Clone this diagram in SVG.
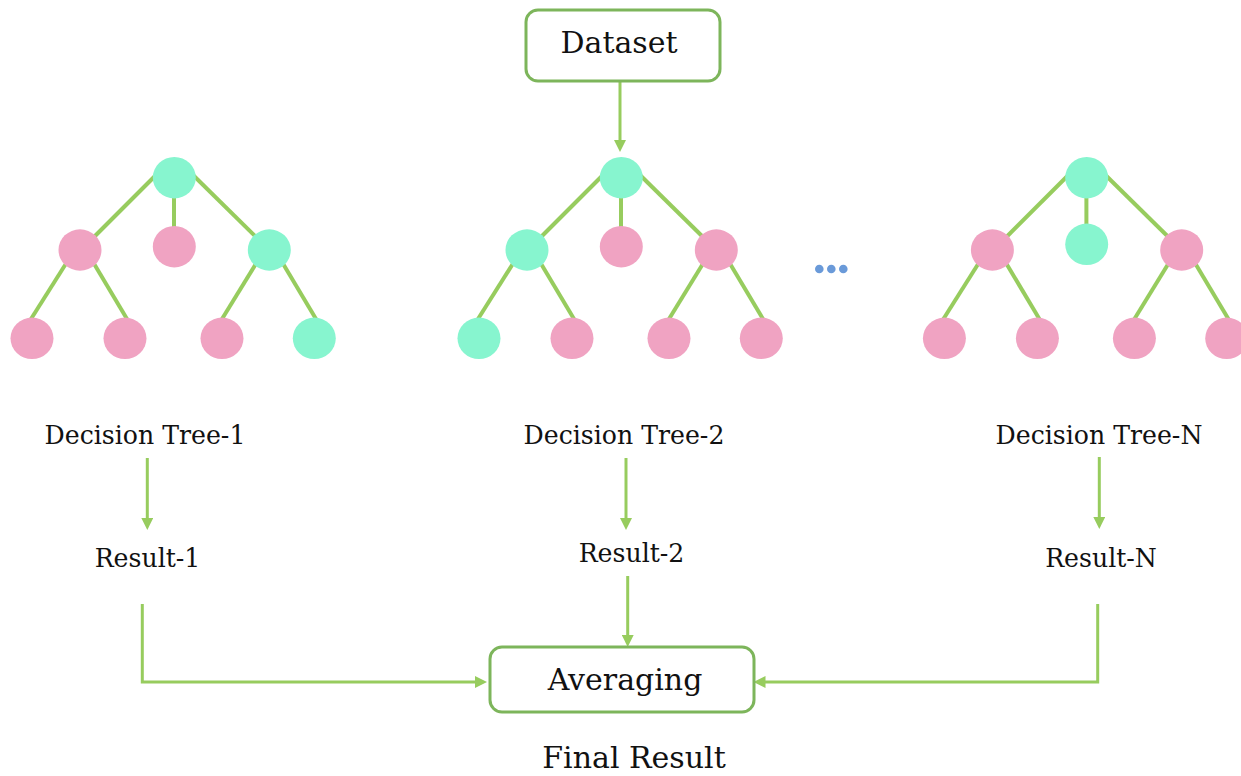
<svg xmlns="http://www.w3.org/2000/svg" width="1241" height="776" viewBox="0 0 1241 776">
<style>
.lbl{font-family:"DejaVu Serif","Liberation Serif",serif;fill:#111;text-anchor:middle}
.big{font-size:30px}
.mid{font-size:25.2px}
.box{fill:#fff;stroke:#7DB55B;stroke-width:3}
.edge{stroke:#97CC5E;stroke-width:4;fill:none}
.arr{stroke:#97CC5E;stroke-width:3;fill:none;marker-end:url(#ah)}
.g{fill:#87F5CF}
.p{fill:#F0A3C2}
</style>
<defs>
<marker id="ah" markerUnits="userSpaceOnUse" markerWidth="12" markerHeight="12" refX="2" refY="6" orient="auto">
<path d="M0,0 L12,6 L0,12 z" fill="#97CC5E"/>
</marker>
</defs>
<rect width="1241" height="776" fill="#fff"/>

<g id="connectors">
  <g id="tree1-edges" class="edge">
    <line x1="156" y1="175" x2="92" y2="239"/>
    <line x1="174" y1="196" x2="174" y2="229"/>
    <line x1="193" y1="175" x2="258" y2="239"/>
    <line x1="67" y1="262" x2="31" y2="319"/>
    <line x1="93" y1="262" x2="127" y2="319"/>
    <line x1="257" y1="262" x2="222" y2="319"/>
    <line x1="282" y1="262" x2="316" y2="319"/>
  </g>
  <g id="tree2-edges" class="edge" transform="translate(447,0)">
    <line x1="156" y1="175" x2="92" y2="239"/>
    <line x1="174" y1="196" x2="174" y2="229"/>
    <line x1="193" y1="175" x2="258" y2="239"/>
    <line x1="67" y1="262" x2="31" y2="319"/>
    <line x1="93" y1="262" x2="127" y2="319"/>
    <line x1="257" y1="262" x2="222" y2="319"/>
    <line x1="282" y1="262" x2="316" y2="319"/>
  </g>
  <g id="treeN-edges" class="edge" transform="translate(912.4,0)">
    <line x1="156" y1="175" x2="92" y2="239"/>
    <line x1="174" y1="196" x2="174" y2="226"/>
    <line x1="193" y1="175" x2="258" y2="239"/>
    <line x1="67" y1="262" x2="31" y2="319"/>
    <line x1="93" y1="262" x2="127" y2="319"/>
    <line x1="257" y1="262" x2="222" y2="319"/>
    <line x1="282" y1="262" x2="316" y2="319"/>
  </g>
  <line class="arr" x1="620" y1="81" x2="620" y2="142"/>
  <line class="arr" x1="147.3" y1="458" x2="147.3" y2="520"/>
  <line class="arr" x1="626" y1="458" x2="626" y2="520"/>
  <line class="arr" x1="1099.3" y1="457" x2="1099.3" y2="519"/>
  <line class="arr" x1="627.7" y1="576" x2="627.7" y2="637"/>
  <polyline class="arr" points="142.3,604 142.3,682 477,682"/>
  <polyline class="arr" points="1097.7,604 1097.7,682 763.5,682"/>
</g>

<g id="dataset">
  <rect class="box" x="526" y="10" width="194" height="71" rx="12"/>
  <text class="lbl big" x="619" y="53">Dataset</text>
</g>

<g id="tree1">
  <ellipse id="t1-root" class="g" cx="174.3" cy="177.7" rx="21.5" ry="20.7"/>
  <ellipse id="t1-l" class="p" cx="80" cy="250" rx="21.5" ry="20.7"/>
  <ellipse id="t1-m" class="p" cx="174.3" cy="246.7" rx="21.5" ry="20.7"/>
  <ellipse id="t1-r" class="g" cx="269.3" cy="250" rx="21.5" ry="20.7"/>
  <ellipse id="t1-ll" class="p" cx="32" cy="338.3" rx="21.5" ry="20.7"/>
  <ellipse id="t1-lr" class="p" cx="125" cy="338.3" rx="21.5" ry="20.7"/>
  <ellipse id="t1-rl" class="p" cx="222" cy="338.3" rx="21.5" ry="20.7"/>
  <ellipse id="t1-rr" class="g" cx="314.3" cy="338.3" rx="21.5" ry="20.7"/>
</g>

<g id="tree2" transform="translate(447,0)">
  <ellipse id="t2-root" class="g" cx="174.3" cy="177.7" rx="21.5" ry="20.7"/>
  <ellipse id="t2-l" class="g" cx="80" cy="250" rx="21.5" ry="20.7"/>
  <ellipse id="t2-m" class="p" cx="174.3" cy="246.7" rx="21.5" ry="20.7"/>
  <ellipse id="t2-r" class="p" cx="269.3" cy="250" rx="21.5" ry="20.7"/>
  <ellipse id="t2-ll" class="g" cx="32" cy="338.3" rx="21.5" ry="20.7"/>
  <ellipse id="t2-lr" class="p" cx="125" cy="338.3" rx="21.5" ry="20.7"/>
  <ellipse id="t2-rl" class="p" cx="222" cy="338.3" rx="21.5" ry="20.7"/>
  <ellipse id="t2-rr" class="p" cx="314.3" cy="338.3" rx="21.5" ry="20.7"/>
</g>

<g id="treeN" transform="translate(912.4,0)">
  <ellipse id="tN-root" class="g" cx="174.3" cy="177.7" rx="21.5" ry="20.7"/>
  <ellipse id="tN-l" class="p" cx="80" cy="250" rx="21.5" ry="20.7"/>
  <ellipse id="tN-m" class="g" cx="174.3" cy="244.3" rx="21.5" ry="20.7"/>
  <ellipse id="tN-r" class="p" cx="269.3" cy="250" rx="21.5" ry="20.7"/>
  <ellipse id="tN-ll" class="p" cx="32" cy="338.3" rx="21.5" ry="20.7"/>
  <ellipse id="tN-lr" class="p" cx="125" cy="338.3" rx="21.5" ry="20.7"/>
  <ellipse id="tN-rl" class="p" cx="222" cy="338.3" rx="21.5" ry="20.7"/>
  <ellipse id="tN-rr" class="p" cx="314.3" cy="338.3" rx="21.5" ry="20.7"/>
</g>

<g id="ellipsis" fill="#6A9AD9">
  <circle cx="819.3" cy="269" r="4.3"/>
  <circle cx="831.3" cy="269" r="4.3"/>
  <circle cx="843.3" cy="269" r="4.3"/>
</g>

<g id="label-tree1"><text class="lbl mid" x="145" y="444">Decision Tree-1</text></g>
<g id="label-tree2"><text class="lbl mid" x="624" y="444">Decision Tree-2</text></g>
<g id="label-treeN"><text class="lbl mid" x="1099" y="444">Decision Tree-N</text></g>
<g id="result1"><text class="lbl mid" x="147.5" y="566.5">Result-1</text></g>
<g id="result2"><text class="lbl mid" x="631.5" y="562">Result-2</text></g>
<g id="resultN"><text class="lbl mid" x="1101" y="566.5">Result-N</text></g>

<g id="averaging">
  <rect class="box" x="490" y="647" width="264" height="65" rx="12"/>
  <text class="lbl big" x="625" y="690">Averaging</text>
</g>

<g id="final-result"><text class="lbl big" x="634" y="768">Final Result</text></g>
</svg>
